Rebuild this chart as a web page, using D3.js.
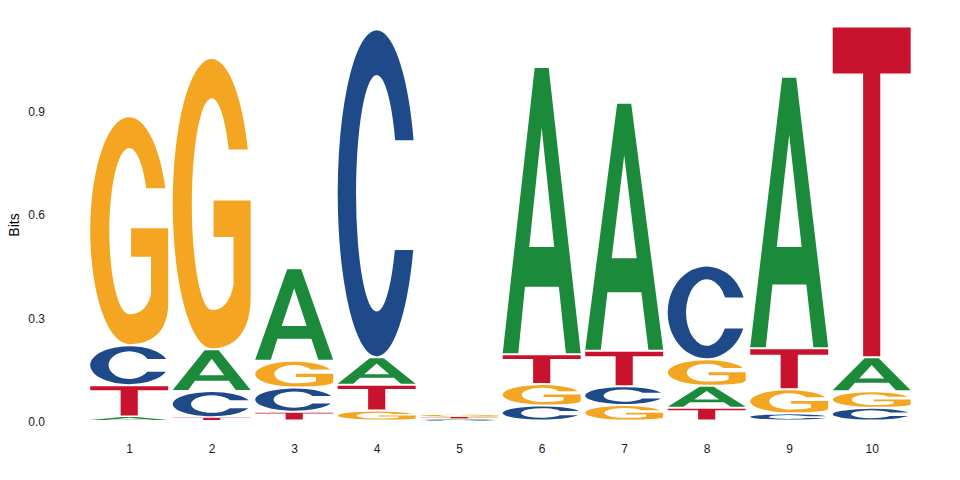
<!DOCTYPE html>
<html>
<head>
<meta charset="utf-8">
<script src="https://cdn.jsdelivr.net/npm/d3@7"></script>
<style>
  html, body { margin: 0; padding: 0; background: #fff; }
  svg { display: block; }
</style>
</head>
<body>
<svg id="chart" width="960" height="480"></svg>
<script>
// ---- data (information content in bits per letter) ----
const positions = [1, 2, 3, 4, 5, 6, 7, 8, 9, 10];
const letters = ["A", "C", "G", "T"];
const bitsA = [0.012, 0.121, 0.268, 0.080, 0.004, 0.834, 0.720, 0.064, 0.788, 0.099];
const bitsC = [0.116, 0.076, 0.070, 0.952, 0.002, 0.044, 0.055, 0.272, 0.021, 0.037];
const bitsG = [0.665, 0.846, 0.078, 0.029, 0.007, 0.062, 0.045, 0.077, 0.070, 0.048];
const bitsT = [0.091, 0.010, 0.026, 0.075, 0.005, 0.087, 0.103, 0.037, 0.119, 0.960];
const yTicks = [0, 0.3, 0.6, 0.9];
const yTitle = "Bits";

const colors = { A: "#1b8a3a", C: "#1e4a8a", G: "#f4a623", T: "#c9122e" };
const FONT = "Liberation Sans, Arial, sans-serif";

// ---- glyph outlines in a unit box (x 0..1, y 0..1 downward) ----
function ex(rx, ry, cy, y) { return 0.5 + rx * Math.sqrt(Math.max(0, 1 - ((y - cy) / ry) ** 2)); }
const glyphs = {
  A: "M0,1 L0.41,0 L0.59,0 L1,1 L0.81,1 L0.72,0.767 L0.285,0.767 L0.2,1 Z " +
     "M0.5,0.21 L0.66,0.628 L0.34,0.628 Z",
  T: "M0,0 L1,0 L1,0.14 L0.61,0.14 L0.61,1 L0.39,1 L0.39,0.14 L0,0.14 Z",
  C: (() => {
    const y1 = 0.337, y2 = 0.674, irx = 0.265, iry = 0.363, icy = 0.5;
    return `M${ex(.5,.5,.5,y1)},${y1} A0.5,0.5 0 1 0 ${ex(.5,.5,.5,y2)},${y2} ` +
           `L${ex(irx,iry,icy,y2)},${y2} A${irx},${iry} 0 1 1 ${ex(irx,iry,icy,y1)},${y1} Z`;
  })(),
  G: (() => {
    const y1 = 0.313, irx = 0.255, iry = 0.366, icy = 0.502;
    return `M${ex(.5,.5,.5,y1)},${y1} A0.5,0.5 0 1 0 0.5,1 C0.78,1 1,0.95 1,0.82 ` +
           `L1,0.489 L0.524,0.489 L0.524,0.615 L0.78,0.615 L0.78,0.78 ` +
           `C0.74,0.84 0.64,0.868 0.5,0.868 A${irx},${iry} 0 1 1 ${ex(irx,iry,icy,y1)},${y1} Z`;
  })()
};

// ---- scales ----
const svg = d3.select("#chart");
const x = d3.scaleLinear().domain([1, 10]).range([129.2, 871.7]);
const y = d3.scaleLinear().domain([0, 1.2]).range([420.6, 7.3]);
const step = x(2) - x(1);
const letterW = step * 0.945;

// ---- build stacks ----
const bitsBy = { A: bitsA, C: bitsC, G: bitsG, T: bitsT };
const stacks = positions.map((p, i) => {
  const items = letters.map(l => ({ letter: l, bits: bitsBy[l][i] }))
    .sort((a, b) => a.bits - b.bits);
  let acc = 0;
  items.forEach(d => { d.y0 = acc; acc += d.bits; d.y1 = acc; d.pos = p; });
  return items;
});

const g = svg.append("g");
stacks.forEach(items => {
  g.selectAll(null).data(items).enter().append("path")
    .attr("d", d => glyphs[d.letter])
    .attr("fill", d => colors[d.letter])
    .attr("fill-rule", "evenodd")
    .attr("transform", d => {
      const top = y(d.y1), bot = y(d.y0);
      const h = bot - top;
      const pad = Math.min(1, h * 0.15);
      return `translate(${x(d.pos) - letterW / 2},${top + pad}) scale(${letterW},${Math.max(0.0001, h - 2 * pad)})`;
    });
});

// ---- axes ----
const yAxis = d3.axisLeft(y).tickValues(yTicks).tickFormat(d3.format(".1f")).tickSize(0).tickPadding(3);
svg.append("g").attr("transform", "translate(48,1)").call(yAxis)
  .call(s => s.select(".domain").remove())
  .call(s => s.selectAll("text").attr("font-family", FONT).attr("font-size", "12px").attr("fill", "#1a1a1a"));

const xAxis = d3.axisBottom(x).tickValues(positions).tickFormat(d3.format("d")).tickSize(0).tickPadding(0);
svg.append("g").attr("transform", "translate(0,444.8)").call(xAxis)
  .call(s => s.select(".domain").remove())
  .call(s => s.selectAll("text").attr("font-family", FONT).attr("font-size", "12px").attr("fill", "#1a1a1a"));

svg.append("text")
  .attr("transform", "translate(18.5,225) rotate(-90)")
  .attr("text-anchor", "middle")
  .attr("font-family", FONT)
  .attr("font-size", "14px")
  .attr("fill", "#000")
  .text(yTitle);
</script>
</body>
</html>
